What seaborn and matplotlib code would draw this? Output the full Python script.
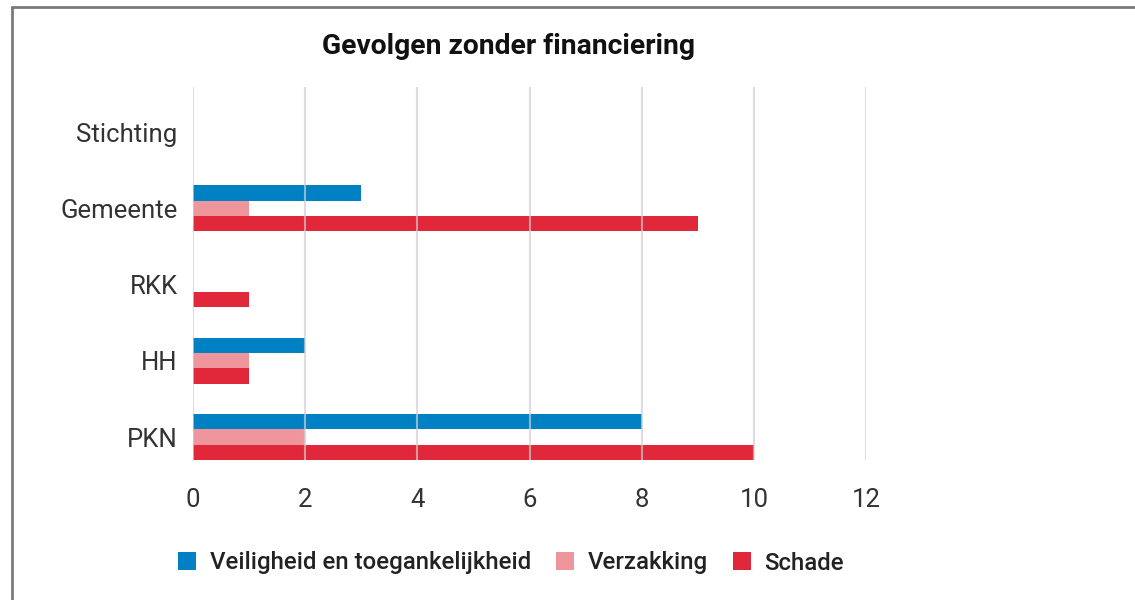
import matplotlib
matplotlib.use("Agg")
import matplotlib.pyplot as plt
from matplotlib.lines import Line2D
import seaborn as sns
import pandas as pd

# Data
categories = ["Stichting", "Gemeente", "RKK", "HH", "PKN"]
veiligheid = [0, 3, 0, 2, 8]
verzakking = [0, 1, 0, 1, 2]
schade = [0, 9, 1, 1, 10]
series = ["Veiligheid en toegankelijkheid", "Verzakking", "Schade"]
colors = ["#0081C3", "#EF969D", "#E0283A"]

# long format for seaborn
rows = []
for name, vals in zip(series, [veiligheid, verzakking, schade]):
    for cat, v in zip(categories, vals):
        rows.append({"categorie": cat, "aantal": v, "reeks": name})
df = pd.DataFrame(rows)

sns.set_theme(style="white")
plt.rcParams["font.family"] = ["Roboto", "DejaVu Sans"]

fig = plt.figure(figsize=(11.35, 6), dpi=100)
ax = fig.add_axes([193 / 1135, 1 - 460 / 600, (866 - 193) / 1135, (460 - 87) / 600])

sns.barplot(data=df, y="categorie", x="aantal", hue="reeks", orient="h",
            order=categories, hue_order=series, palette=colors,
            width=0.6, gap=0, linewidth=0, saturation=1, ax=ax)

ax.set_xlim(0, 12)
ax.set_ylim(4.3, -0.59)
ax.set_xticks(range(0, 13, 2))
ax.set_xlabel("")
ax.set_ylabel("")
ax.grid(axis="x", color="#cfcfcf", linewidth=1.5, alpha=0.7)
ax.grid(axis="y", visible=False)
ax.set_axisbelow(False)
for s in ax.spines.values():
    s.set_visible(False)
ax.tick_params(axis="y", length=0, pad=11, labelsize=18.5, labelcolor="#333333")
ax.tick_params(axis="x", length=0, pad=20, labelsize=18.5, labelcolor="#333333")

handles, labels = ax.get_legend_handles_labels()
ax.legend_.remove()
fig.legend(handles, labels, loc="center", bbox_to_anchor=(511 / 1135, 1 - 563 / 600),
           ncol=3, frameon=False, handlelength=0.75, handleheight=0.75,
           handletextpad=0.55, columnspacing=1.05,
           prop={"family": "Roboto", "weight": "medium", "size": 17.3})
for t in fig.legends[0].get_texts():
    t.set_color("#222222")

fig.text(508 / 1135, 1 - 47 / 600, "Gevolgen zonder financiering", ha="center", va="center",
         fontsize=20.3, fontweight="bold", color="#111111")

# frame lines of the original screenshot
fig.add_artist(Line2D([12 / 1135, 12 / 1135], [0, 1 - 7 / 600], color="#7a7a7a", linewidth=2))
fig.add_artist(Line2D([12 / 1135, 1], [1 - 7 / 600, 1 - 7 / 600], color="#7a7a7a", linewidth=2))

fig.savefig("out.png", dpi=100)
